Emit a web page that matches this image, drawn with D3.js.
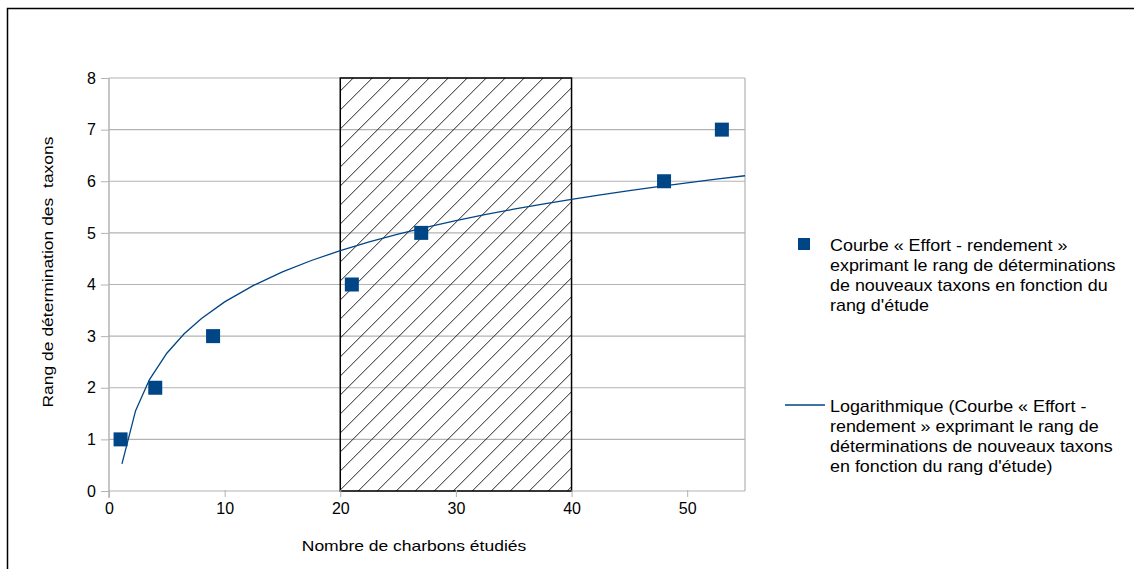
<!DOCTYPE html>
<html>
<head>
<meta charset="utf-8">
<script src="https://cdn.jsdelivr.net/npm/d3@7"></script>
<style>
	html, body { margin: 0; padding: 0; background: #fff; }
	svg { display: block; font-family: "Liberation Sans", Arial, sans-serif; }
	.axis text { font-size: 16px; fill: #000; }
	.axis path { display: none; }
	.axis line { stroke: #b3b3b3; }
</style>
</head>
<body>
<svg id="chart" width="1134" height="569"></svg>
<script>
// Observations: rank of study (x) vs rank of new taxon determination (y)
var studyRank = [1, 4, 9, 21, 27, 48, 53];
var taxonRank = [1, 2, 3, 4, 5, 6, 7];

// Hatched zone
var zoneRange = [20, 40];

// Ticks
var xTicks = [0, 10, 20, 30, 40, 50];
var yTicks = [0, 1, 2, 3, 4, 5, 6, 7, 8];

// x positions where the log trend is sampled
var trendX = [1.12, 2.3, 3.5, 5, 6.5, 8, 10, 12.5, 15, 17.5, 20, 22.5, 25, 27.5, 30, 32.5, 35, 37.5, 40, 42.5, 45, 47.5, 50, 52.5, 55];

var legendLabels = [
	["Courbe « Effort - rendement »", "exprimant le rang de déterminations", "de nouveaux taxons en fonction du", "rang d'étude"],
	["Logarithmique (Courbe « Effort -", "rendement » exprimant le rang de", "déterminations de nouveaux taxons", "en fonction du rang d'étude)"]
];

var blue = "#004586";

var svg = d3.select("#chart");

// Outer frame (cropped on the right and bottom)
svg.append("rect")
	.attr("x", 7.5).attr("y", 8.5)
	.attr("width", 1200).attr("height", 600)
	.attr("fill", "none").attr("stroke", "#000").attr("stroke-width", 1.5);

var margin = { left: 109, top: 78 };
var width = 636, height = 413;

var g = svg.append("g").attr("transform", "translate(" + margin.left + "," + margin.top + ")");

var x = d3.scaleLinear().domain([0, 55]).range([0, width]);
var y = d3.scaleLinear().domain([0, 8]).range([height, 0]);

// Horizontal gridlines
g.append("g")
	.selectAll("line")
	.data(yTicks)
	.enter().append("line")
		.attr("x1", 0).attr("x2", width)
		.attr("y1", function(d) { return y(d); })
		.attr("y2", function(d) { return y(d); })
		.attr("stroke", "#b3b3b3").attr("stroke-width", 1.2);

// Right border of plot area
g.append("line")
	.attr("x1", width).attr("x2", width)
	.attr("y1", 0).attr("y2", height)
	.attr("stroke", "#b3b3b3").attr("stroke-width", 1.2);

// Hatch pattern
var defs = svg.append("defs");
var pattern = defs.append("pattern")
	.attr("id", "hatch")
	.attr("patternUnits", "userSpaceOnUse")
	.attr("width", 19).attr("height", 19)
	.attr("x", margin.left + x(zoneRange[0]) - 3)
	.attr("y", margin.top);
pattern.append("path")
	.attr("d", "M-1,20 L20,-1 M-10,10 L10,-10 M9,29 L29,9")
	.attr("stroke", "#222").attr("stroke-width", 1);

g.append("rect")
	.attr("x", x(zoneRange[0]))
	.attr("y", y(8))
	.attr("width", x(zoneRange[1]) - x(zoneRange[0]))
	.attr("height", y(0) - y(8))
	.attr("fill", "url(#hatch)")
	.attr("stroke", "#000").attr("stroke-width", 1.5);

// Axes
g.append("g")
	.attr("class", "axis axis--x")
	.attr("transform", "translate(0," + height + ")")
	.call(d3.axisBottom(x).tickValues(xTicks).tickSize(7).tickPadding(5).tickFormat(d3.format("d")))
	.call(function(s) { s.selectAll("line").attr("transform", "translate(0,-1)"); });

g.append("g")
	.attr("class", "axis axis--y")
	.call(d3.axisLeft(y).tickValues(yTicks).tickSize(8).tickPadding(5).tickFormat(d3.format("d")));

// Y axis line
g.append("line")
	.attr("x1", 0).attr("x2", 0)
	.attr("y1", 0).attr("y2", height + 7)
	.attr("stroke", "#b3b3b3").attr("stroke-width", 1.5);

// Log regression fitted to the observations (y = a + b ln x)
var lx = studyRank.map(function(d) { return Math.log(d); });
var mx = d3.mean(lx), my = d3.mean(taxonRank);
var b = d3.sum(lx, function(d, i) { return (d - mx) * (taxonRank[i] - my); }) /
	d3.sum(lx, function(d) { return (d - mx) * (d - mx); });
var a = my - b * mx;

var line = d3.line()
	.x(function(d) { return x(d); })
	.y(function(d) { return y(a + b * Math.log(d)); });

g.append("path")
	.datum(trendX)
	.attr("fill", "none")
	.attr("stroke", blue)
	.attr("stroke-width", 1.3)
	.attr("d", line);

// Points
var sq = 14;
g.selectAll(".pt")
	.data(studyRank)
	.enter().append("rect")
		.attr("class", "pt")
		.attr("x", function(d) { return x(d) - sq / 2; })
		.attr("y", function(d, i) { return y(taxonRank[i]) - sq / 2; })
		.attr("width", sq).attr("height", sq)
		.attr("fill", blue);

// Axis titles (the original text is rendered wide, hence the horizontal stretch)
svg.append("text")
	.attr("transform", "translate(414,551) scale(1.25,1)")
	.attr("text-anchor", "middle")
	.style("font-size", "14px")
	.text("Nombre de charbons étudiés");

svg.append("text")
	.attr("transform", "translate(53,272) rotate(-90) scale(1.25,1)")
	.attr("text-anchor", "middle")
	.style("font-size", "14px")
	.attr("xml:space", "preserve")
	.text("Rang de détermination des  taxons");

// Legend
var legend = svg.append("g");

legend.append("rect")
	.attr("x", 798).attr("y", 238)
	.attr("width", 12).attr("height", 12)
	.attr("fill", blue);

legend.append("line")
	.attr("x1", 785).attr("x2", 825)
	.attr("y1", 405).attr("y2", 405)
	.attr("stroke", blue).attr("stroke-width", 1.3);

var legendTop = [251, 412];
legendLabels.forEach(function(lines, k) {
	legend.append("text")
		.attr("transform", "translate(830," + legendTop[k] + ") scale(1.12,1)")
		.style("font-size", "16px")
		.selectAll("tspan")
		.data(lines)
		.enter().append("tspan")
			.attr("x", 0)
			.attr("dy", function(d, i) { return i === 0 ? 0 : 20; })
			.text(function(d) { return d; });
});
</script>
</body>
</html>
